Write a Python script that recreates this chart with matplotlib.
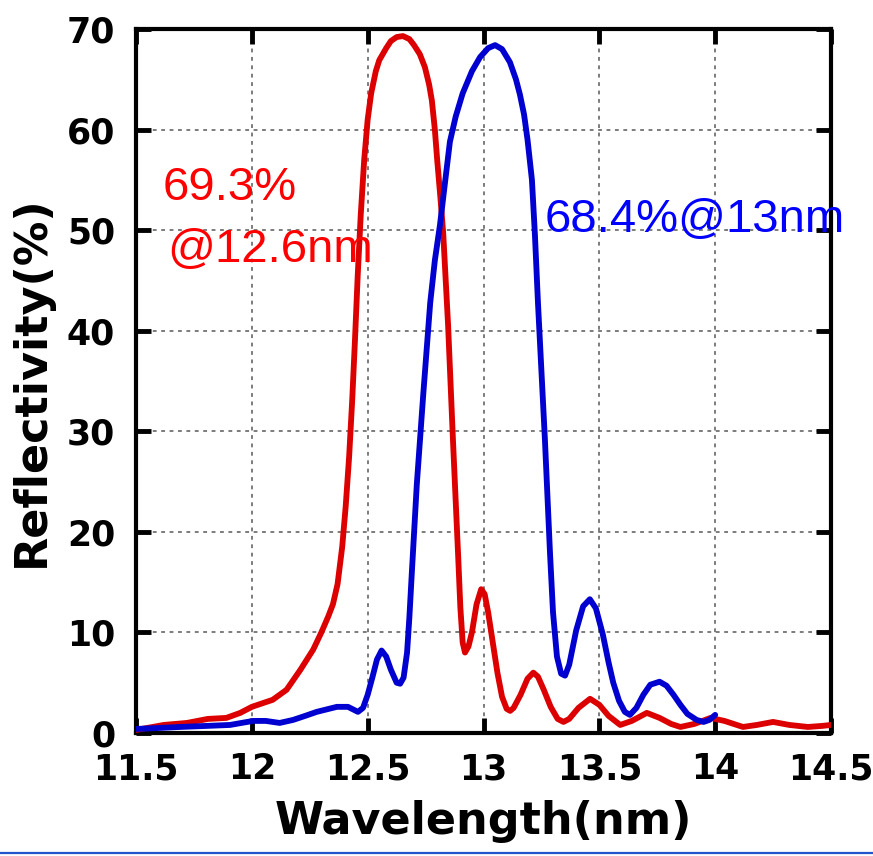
import matplotlib
matplotlib.use("Agg")
import matplotlib.pyplot as plt
from matplotlib.lines import Line2D

# wavelength (nm) / reflectivity (%)
red_x = [11.50, 11.62, 11.72, 11.81, 11.89, 11.95, 12.00, 12.09, 12.15, 12.21,
         12.265, 12.30, 12.33, 12.35, 12.37, 12.39, 12.405, 12.42, 12.433, 12.445,
         12.457, 12.47, 12.485, 12.50, 12.515, 12.535, 12.55, 12.58, 12.60, 12.625,
         12.652, 12.68, 12.70, 12.725, 12.747, 12.765, 12.777, 12.79, 12.80, 12.813,
         12.826, 12.847, 12.868, 12.89, 12.90, 12.91, 12.92, 12.935, 12.95, 12.97,
         12.99, 13.005, 13.02, 13.04, 13.06, 13.08, 13.10, 13.115, 13.13, 13.16,
         13.19, 13.215, 13.235, 13.26, 13.29, 13.32, 13.345, 13.37, 13.41, 13.46,
         13.50, 13.54, 13.59, 13.64, 13.705, 13.76, 13.81, 13.85, 13.91, 13.98,
         14.04, 14.12, 14.18, 14.25, 14.32, 14.40, 14.46, 14.50]
red_y = [0.3, 0.8, 1.0, 1.4, 1.5, 2.0, 2.6, 3.3, 4.3, 6.3,
         8.3, 10.0, 11.6, 12.8, 14.8, 18.5, 22.5, 27.5, 33.0, 39.0,
         45.5, 51.5, 57.0, 61.0, 63.6, 65.8, 66.9, 68.1, 68.8, 69.2,
         69.3, 69.0, 68.4, 67.5, 66.2, 64.5, 62.9, 60.0, 57.0, 53.5,
         49.7, 40.6, 29.2, 17.9, 12.5, 9.0, 8.0, 8.6, 10.0, 12.8,
         14.3, 13.8, 12.0, 9.0, 6.0, 3.6, 2.4, 2.2, 2.5, 3.8,
         5.4, 6.0, 5.6, 4.3, 2.6, 1.4, 1.1, 1.4, 2.5, 3.4,
         2.8, 1.7, 0.8, 1.2, 2.0, 1.5, 0.9, 0.6, 0.9, 1.5,
         1.2, 0.6, 0.8, 1.1, 0.8, 0.6, 0.7, 0.8]

blue_x = [11.50, 11.60, 11.69, 11.80, 11.906, 12.005, 12.06, 12.12, 12.178, 12.23,
          12.28, 12.367, 12.415, 12.458, 12.48, 12.50, 12.52, 12.54, 12.56, 12.58,
          12.60, 12.625, 12.64, 12.655, 12.67, 12.68, 12.69, 12.712, 12.74, 12.77,
          12.79, 12.812, 12.83, 12.855, 12.88, 12.91, 12.95, 12.985, 13.02, 13.05,
          13.08, 13.114, 13.14, 13.157, 13.175, 13.19, 13.209, 13.222, 13.235, 13.25,
          13.265, 13.287, 13.30, 13.317, 13.335, 13.352, 13.37, 13.40, 13.43, 13.459,
          13.485, 13.515, 13.54, 13.56, 13.585, 13.61, 13.632, 13.66, 13.69, 13.72,
          13.76, 13.79, 13.82, 13.85, 13.88, 13.92, 13.95, 13.975, 14.00]
blue_y = [0.4, 0.5, 0.6, 0.7, 0.8, 1.2, 1.2, 1.0, 1.3, 1.7,
          2.1, 2.6, 2.6, 2.1, 2.5, 3.8, 5.5, 7.3, 8.2, 7.6,
          6.3, 5.0, 4.9, 5.5, 8.0, 11.5, 15.7, 24.7, 33.7, 42.8,
          47.0, 50.5, 54.0, 58.8, 61.3, 63.6, 65.8, 67.2, 68.1, 68.4,
          68.0, 66.7, 65.0, 63.5, 61.5, 59.0, 55.0, 49.5, 42.8, 36.0,
          29.2, 17.9, 12.0, 7.6, 5.9, 5.7, 6.8, 10.2, 12.6, 13.3,
          12.4, 9.8, 7.0, 5.0, 3.2, 2.1, 1.8, 2.5, 3.8, 4.8,
          5.1, 4.7, 3.8, 2.8, 1.9, 1.3, 1.1, 1.3, 1.8]

xticks = [11.5, 12, 12.5, 13, 13.5, 14, 14.5]
xtick_labels = ["11.5", "12", "12.5", "13", "13.5", "14", "14.5"]
yticks = [0, 10, 20, 30, 40, 50, 60, 70]

fig = plt.figure(figsize=(8.73, 8.56), dpi=100)
ax = fig.add_axes([0.1558, 0.1437, 0.7961, 0.8224])

ax.plot(red_x, red_y, color="#dd0000", lw=4.2, solid_joinstyle="round",
        solid_capstyle="round", zorder=3)
ax.plot(blue_x, blue_y, color="#0000d0", lw=4.2, solid_joinstyle="round",
        solid_capstyle="round", zorder=3)

ax.set_xlim(11.5, 14.5)
ax.set_ylim(0, 70)
ax.set_xticks(xticks)
ax.set_xticklabels(xtick_labels)
ax.set_yticks(yticks)

ax.grid(True, color="0.35", linestyle=(0, (2.5, 3)), linewidth=1.1)
ax.set_axisbelow(True)

for s in ax.spines.values():
    s.set_linewidth(3)
ax.tick_params(direction="in", length=11, width=3.5, top=True, right=True,
               labelsize=25)
ax.tick_params(axis="x", pad=14)
ax.tick_params(axis="y", pad=15)
for lab in ax.get_xticklabels() + ax.get_yticklabels():
    lab.set_fontweight("bold")
    lab.set_family("DejaVu Sans")

ax.set_xlabel("Wavelength(nm)", fontsize=32, fontweight="bold", labelpad=10)
ax.set_ylabel("Reflectivity(%)", fontsize=32, fontweight="bold", labelpad=10)

ax.text(11.617, 54.2, "69.3%", color="red", fontsize=34,
        family="Liberation Sans", va="center", ha="left")
ax.text(11.634, 48.0, "@12.6nm", color="red", fontsize=34,
        family="Liberation Sans", va="center", ha="left")
ax.text(13.265, 51.0, "68.4%@13nm", color="blue", fontsize=34,
        family="Liberation Sans", va="center", ha="left")

fig.add_artist(Line2D([0, 1], [0.0035, 0.0035], transform=fig.transFigure,
                      color="#2255cc", lw=1.6, zorder=0))

fig.savefig("out.png", dpi=100)
